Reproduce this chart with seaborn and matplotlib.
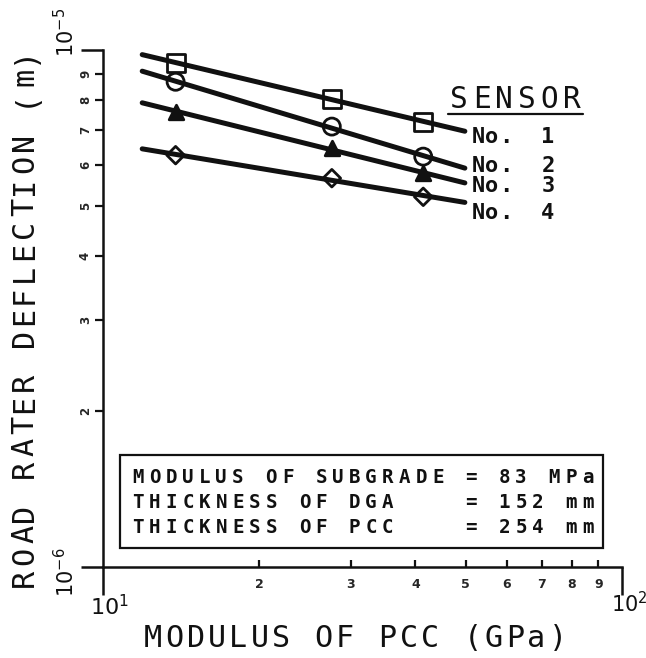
import matplotlib
matplotlib.use("Agg")
import matplotlib.pyplot as plt
from matplotlib.patches import Rectangle
from matplotlib.ticker import FixedLocator, FixedFormatter, NullFormatter
import numpy as np
import seaborn as sns

W, H = 646, 658

# modulus of PCC (GPa) at the three test points
modulus_gpa = [13.8, 27.6, 41.4]
# road rater deflection (m) per sensor
defl_s1 = [9.45e-6, 8.03e-6, 7.27e-6]
defl_s2 = [8.68e-6, 7.11e-6, 6.22e-6]
defl_s3 = [7.60e-6, 6.45e-6, 5.77e-6]
defl_s4 = [6.26e-6, 5.65e-6, 5.20e-6]
series = [defl_s1, defl_s2, defl_s3, defl_s4]
fit_range = [11.9, 49.8]

sensor_labels = ["No.  1", "No.  2", "No.  3", "No.  4"]
box_lines = [
    "MODULUS OF SUBGRADE = 83 MPa",
    "THICKNESS OF DGA    = 152 mm",
    "THICKNESS OF PCC    = 254 mm",
]
x_minor = [20, 30, 40, 50, 60, 70, 80, 90]
y_minor = [2e-6, 3e-6, 4e-6, 5e-6, 6e-6, 7e-6, 8e-6, 9e-6]

INK = "#111111"
sns.set_style("ticks")
plt.rcParams["font.family"] = ["DejaVu Sans"]

fig = plt.figure(figsize=(W / 100, H / 100), dpi=100)
ax = fig.add_axes([103 / W, 1 - 567 / H, (622 - 103) / W, (567 - 50) / H])

mk = [("s", 170, True), ("o", 150, True), ("^", 110, False), ("D", 80, True)]
for ys, (m, s, hollow) in zip(series, mk):
    k, b = np.polyfit(np.log10(modulus_gpa), np.log10(ys), 1)
    xf = np.array(fit_range)
    sns.lineplot(x=xf, y=10 ** (b + k * np.log10(xf)), ax=ax, color=INK,
                 lw=3.6, solid_capstyle="round")
    sns.scatterplot(x=modulus_gpa, y=ys, ax=ax, marker=m, s=s,
                    facecolor="none" if hollow else INK, edgecolor=INK,
                    linewidth=2, zorder=3)

ax.set_xscale("log")
ax.set_yscale("log")
ax.set_xlim(10, 100)
ax.set_ylim(1e-6, 1e-5)
for side in ["top", "right"]:
    ax.spines[side].set_visible(False)
for side in ["left", "bottom"]:
    ax.spines[side].set_linewidth(1.8)
    ax.spines[side].set_color(INK)

ax.xaxis.set_major_locator(FixedLocator([10, 100]))
ax.xaxis.set_major_formatter(NullFormatter())
ax.xaxis.set_minor_locator(FixedLocator(x_minor))
ax.xaxis.set_minor_formatter(FixedFormatter([str(int(v / 10)) for v in x_minor]))
ax.tick_params(axis="x", which="major", direction="out", length=20, width=1.8, color=INK)
ax.tick_params(axis="x", which="minor", direction="in", length=5, width=1.6,
               labelsize=9, pad=8, color=INK)

ax.yaxis.set_major_locator(FixedLocator([1e-6, 1e-5]))
ax.yaxis.set_major_formatter(NullFormatter())
ax.yaxis.set_minor_locator(FixedLocator(y_minor))
ax.yaxis.set_minor_formatter(FixedFormatter([str(int(round(v * 1e6))) for v in y_minor]))
ax.tick_params(axis="y", which="major", direction="out", length=16, width=1.8, color=INK)
ax.tick_params(axis="y", which="minor", direction="out", length=6, width=1.6,
               labelsize=8.5, pad=2, labelrotation=90, color=INK)
for lab in ax.get_yticklabels(minor=True):
    lab.set_fontweight("bold")
    lab.set_va("center")
for lab in ax.get_xticklabels(minor=True):
    lab.set_fontweight("bold")


def spaced(s, x0, y0, pitch, cap, rot=0, weight="normal"):
    # plotter style text: one glyph per fixed pitch cell, y0 = cap centre (pixels)
    size = cap / 0.729 * 72 / 100
    for i, ch in enumerate(s):
        if ch == " ":
            continue
        if rot == 0:
            x, y = x0 + i * pitch, y0 + cap / 2
        else:
            x, y = x0 + cap / 2, y0 - i * pitch
        fig.text(x / W, 1 - y / H, ch, ha="center", va="baseline", fontsize=size,
                 rotation=rot, rotation_mode="anchor", color=INK,
                 family="DejaVu Sans Mono", fontweight=weight)


spaced("MODULUS OF PCC (GPa)", 153, 636, 21.3, 22)
spaced("ROAD RATER DEFLECTION (m)", 22, 578, 21.8, 22, rot=90)
spaced("SENSOR", 459, 97, 22.6, 21.5)
fig.add_artist(plt.Line2D([448 / W, 583 / W], [1 - 114 / H] * 2, color=INK, lw=1.6))
for lab, yc in zip(sensor_labels, [135, 164, 184, 211]):
    spaced(lab, 478, yc, 14, 16, weight="bold")

for i, line in enumerate(box_lines):
    spaced(line, 138, 476 + 25 * i, 16.65, 14, weight="bold")
fig.add_artist(Rectangle((120 / W, 1 - 548 / H), (603 - 120) / W, (548 - 455) / H,
                         transform=fig.transFigure, fill=False, lw=1.6, color=INK))

fig.text(109 / W, 1 - 607 / H, "$10^1$", ha="center", va="center", fontsize=16, color=INK)
fig.text(629 / W, 1 - 604 / H, "$10^2$", ha="center", va="center", fontsize=15, color=INK)
fig.text(66 / W, 1 - 32 / H, "$10^{-5}$", ha="center", va="center", fontsize=15,
         rotation=90, color=INK)
fig.text(66 / W, 1 - 572 / H, "$10^{-6}$", ha="center", va="center", fontsize=15,
         rotation=90, color=INK)

fig.savefig("out.png", dpi=100)
